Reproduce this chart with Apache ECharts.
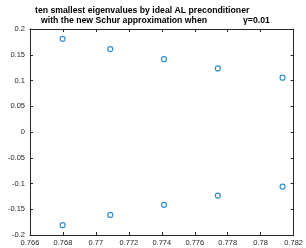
<!DOCTYPE html>
<html><head><meta charset="utf-8">
<script src="https://cdn.jsdelivr.net/npm/echarts@6/dist/echarts.min.js"></script>
<style>html,body{margin:0;padding:0;background:#fff}#c{width:306px;height:248px}</style>
</head><body><div id="c"></div>
<script>
const realParts = [0.76798, 0.77087, 0.77413, 0.77740, 0.78133];
const imagPartsPos = [0.1810, 0.1610, 0.1415, 0.1235, 0.1055];
const imagPartsNeg = [-0.1810, -0.1610, -0.1415, -0.1235, -0.1060];
const titleLine1 = "ten smallest eigenvalues by ideal AL preconditioner";
const titleLine2 = "with the new Schur approximation when";
const gammaText = "=0.01";

const pts = [];
realParts.forEach((x,i)=>{pts.push([x, imagPartsPos[i]]); pts.push([x, imagPartsNeg[i]]);});

const axisCol = '#262626';
const font = 'Liberation Sans, Arial, sans-serif';
const chart = echarts.init(document.getElementById('c'), null, {renderer:'canvas'});
const fx = v => String(parseFloat(v.toFixed(3)));
const fy = v => String(parseFloat(v.toFixed(2)));
const tfs = 8.7;
chart.setOption({
  animation:false,
  grid:{left:30,right:9,top:29,bottom:13},
  title:[
    {text:titleLine1,left:35,top:6,padding:0,textStyle:{fontSize:tfs,fontWeight:'bold',color:'#000',fontFamily:font}},
    {text:titleLine2,left:41,top:16,padding:0,textStyle:{fontSize:tfs,fontWeight:'bold',color:'#000',fontFamily:font}},
    {text:'{g|γ}{b|'+gammaText+'}',left:243,top:16,padding:0,textStyle:{rich:{g:{fontSize:tfs,color:'#000',fontFamily:font},b:{fontSize:tfs,fontWeight:'bold',color:'#000',fontFamily:font}}}}
  ],
  xAxis:[
    {type:'value',min:0.766,max:0.782,interval:0.002,position:'bottom',
     axisLine:{onZero:false,lineStyle:{color:axisCol,width:1}},
     axisTick:{inside:true,length:3,lineStyle:{color:axisCol}},
     axisLabel:{formatter:fx,fontSize:7.5,color:axisCol,margin:4,fontFamily:font,showMinLabel:true,showMaxLabel:true},
     splitLine:{show:false}},
    {type:'value',min:0.766,max:0.782,interval:0.002,position:'top',
     axisLine:{onZero:false,lineStyle:{color:axisCol,width:1}},
     axisTick:{inside:true,length:3,lineStyle:{color:axisCol}},
     axisLabel:{show:false},splitLine:{show:false}}
  ],
  yAxis:[
    {type:'value',min:-0.2,max:0.2,interval:0.05,position:'left',
     axisLine:{onZero:false,lineStyle:{color:axisCol,width:1}},
     axisTick:{inside:true,length:3,lineStyle:{color:axisCol}},
     axisLabel:{formatter:fy,fontSize:7.5,color:axisCol,margin:5,fontFamily:font},
     splitLine:{show:false}},
    {type:'value',min:-0.2,max:0.2,interval:0.05,position:'right',
     axisLine:{onZero:false,lineStyle:{color:axisCol,width:1}},
     axisTick:{inside:true,length:3,lineStyle:{color:axisCol}},
     axisLabel:{show:false},splitLine:{show:false}}
  ],
  series:[{type:'scatter',data:pts,symbol:'circle',symbolSize:5,
    itemStyle:{color:'#fff',borderColor:'#0072BD',borderWidth:1.2}}]
});
</script></body></html>
